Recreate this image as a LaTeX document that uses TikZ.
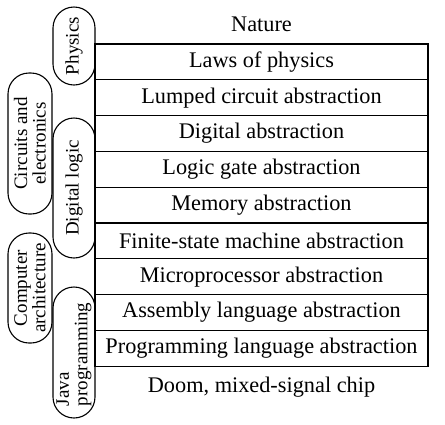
\documentclass[tikz,border=0pt]{standalone}
\usepackage{fontspec}
\setmainfont{Liberation Serif}
\begin{document}
\begin{tikzpicture}[x=1pt,y=-1pt,
  row/.style={draw,line width=1.1pt,minimum width=333pt,minimum height=35.8pt,inner sep=0pt,font=\fontsize{22.3}{24}\selectfont},
  plain/.style={inner sep=0pt,font=\fontsize{22.3}{24}\selectfont},
  tag/.style={draw,line width=1.1pt,rounded corners=21pt,inner sep=0pt,rotate=90,align=center,font=\fontsize{19}{18.5}\selectfont}]
\useasboundingbox (0,0) rectangle (445,424);
% table rows
\node[row] (r1) at (261.5,61.9) {Laws of physics};
\node[row] (r2) at (261.5,97.7) {Lumped circuit abstraction};
\node[row] (r3) at (261.5,133.5) {Digital abstraction};
\node[row] (r4) at (261.5,169.3) {Logic gate abstraction};
\node[row] (r5) at (261.5,205.1) {Memory abstraction};
\node[row] (r6) at (261.5,240.9) {Finite-state machine abstraction};
\node[row] (r7) at (261.5,276.7) {Microprocessor abstraction};
\node[row] (r8) at (261.5,312.5) {Assembly language abstraction};
\node[row] (r9) at (261.5,348.3) {Programming language abstraction};
\node[plain] (nat) at (261.5,24) {Nature};
\node[plain] (doom) at (261.5,387) {Doom, mixed-signal chip};
% side tags
\node[tag,minimum width=78pt,minimum height=42pt] (phys) at (74,46) {Physics};
\node[tag,minimum width=141pt,minimum height=44pt] (circ) at (30,143.5) {Circuits and\\electronics};
\node[tag,minimum width=140pt,minimum height=42pt] (dig) at (74,188) {Digital logic};
\node[tag,minimum width=110pt,minimum height=44pt] (comp) at (30,288) {Computer\\architecture};
\node[tag,minimum width=131pt,minimum height=42pt,align=left,text width=107pt] (java) at (74,352.5) {Java\\programming};
\end{tikzpicture}
\end{document}
